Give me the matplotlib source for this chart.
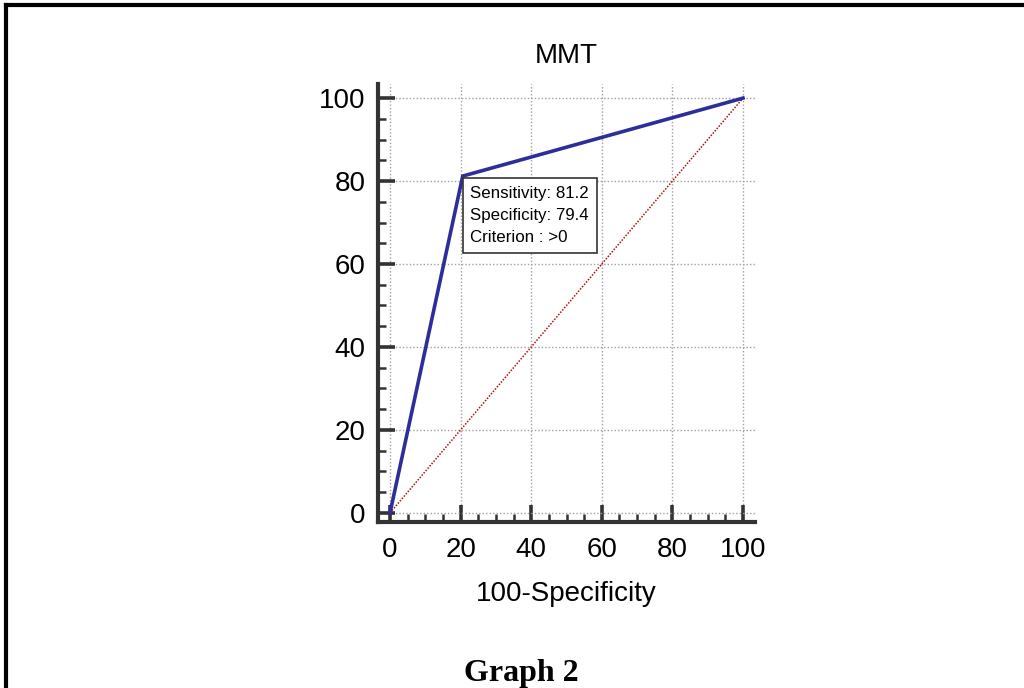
import numpy as np
import matplotlib
matplotlib.use("Agg")
import matplotlib.pyplot as plt
from matplotlib.lines import Line2D
from matplotlib.ticker import MultipleLocator

# ROC curve points (100-Specificity, Sensitivity)
fpr = [0, 20.6, 100]
tpr = [0, 81.2, 100]
diag = [0, 100]
title = "MMT"
xlabel = "100-Specificity"
caption = "Graph 2"
tip_lines = ["Sensitivity: 81.2", "Specificity: 79.4", "Criterion : >0"]

plt.rcParams['font.family'] = ['Liberation Sans', 'DejaVu Sans']

fig = plt.figure(figsize=(10.24, 6.88), dpi=100)
ax = fig.add_axes([378/1024, 1-522/688, (755-378)/1024, (522-84)/688])

# grid
ax.grid(True, which='major', color='#a0a0a0', linestyle=(0, (1, 1.5)), linewidth=1)
ax.set_axisbelow(True)

ax.plot(diag, diag, color='#b01010', linestyle=(0, (1, 1)), linewidth=1.1, zorder=2)
ax.plot(fpr, tpr, color='#2e2e9a', linewidth=2.6, zorder=3, solid_joinstyle='miter')

ax.set_xlim(-3.4, 103.4)
ax.set_ylim(-2.2, 103.4)
ax.xaxis.set_major_locator(MultipleLocator(20))
ax.xaxis.set_minor_locator(MultipleLocator(5))
ax.yaxis.set_major_locator(MultipleLocator(20))
ax.yaxis.set_minor_locator(MultipleLocator(5))

for s in ['top', 'right']:
    ax.spines[s].set_visible(False)
for s in ['left', 'bottom']:
    ax.spines[s].set_color('#333333')
    ax.spines[s].set_linewidth(3)

ax.tick_params(which='major', direction='in', length=12, width=2.6, color='#333333',
               labelsize=20, pad=11)
ax.tick_params(which='minor', direction='in', length=6, width=1.8, color='#333333')
ax.tick_params(axis='y', which='major', pad=9)

ax.set_title(title, fontsize=20, pad=15)
ax.set_xlabel(xlabel, fontsize=20, labelpad=13)

# tooltip box with top-left corner at the cut-off point
ax.annotate("\n".join(tip_lines), xy=(fpr[1], tpr[1]), xytext=(5.5, -7),
            textcoords='offset points', ha='left', va='top', fontsize=12.2,
            linespacing=1.6, zorder=5,
            bbox=dict(boxstyle='square,pad=0.45', fc='white', ec='#333333', lw=1.2))

# page frame
fig.add_artist(Line2D([6/1024, 1], [1-5/688, 1-5/688], color='black', lw=3,
                      transform=fig.transFigure))
fig.add_artist(Line2D([6/1024, 6/1024], [0, 1-5/688], color='black', lw=3,
                      transform=fig.transFigure))

fig.text(521/1024, 1-673/688, caption, ha='center', va='center', fontsize=23,
         fontweight='bold', family='Liberation Serif')

fig.savefig("out.png", dpi=100)
